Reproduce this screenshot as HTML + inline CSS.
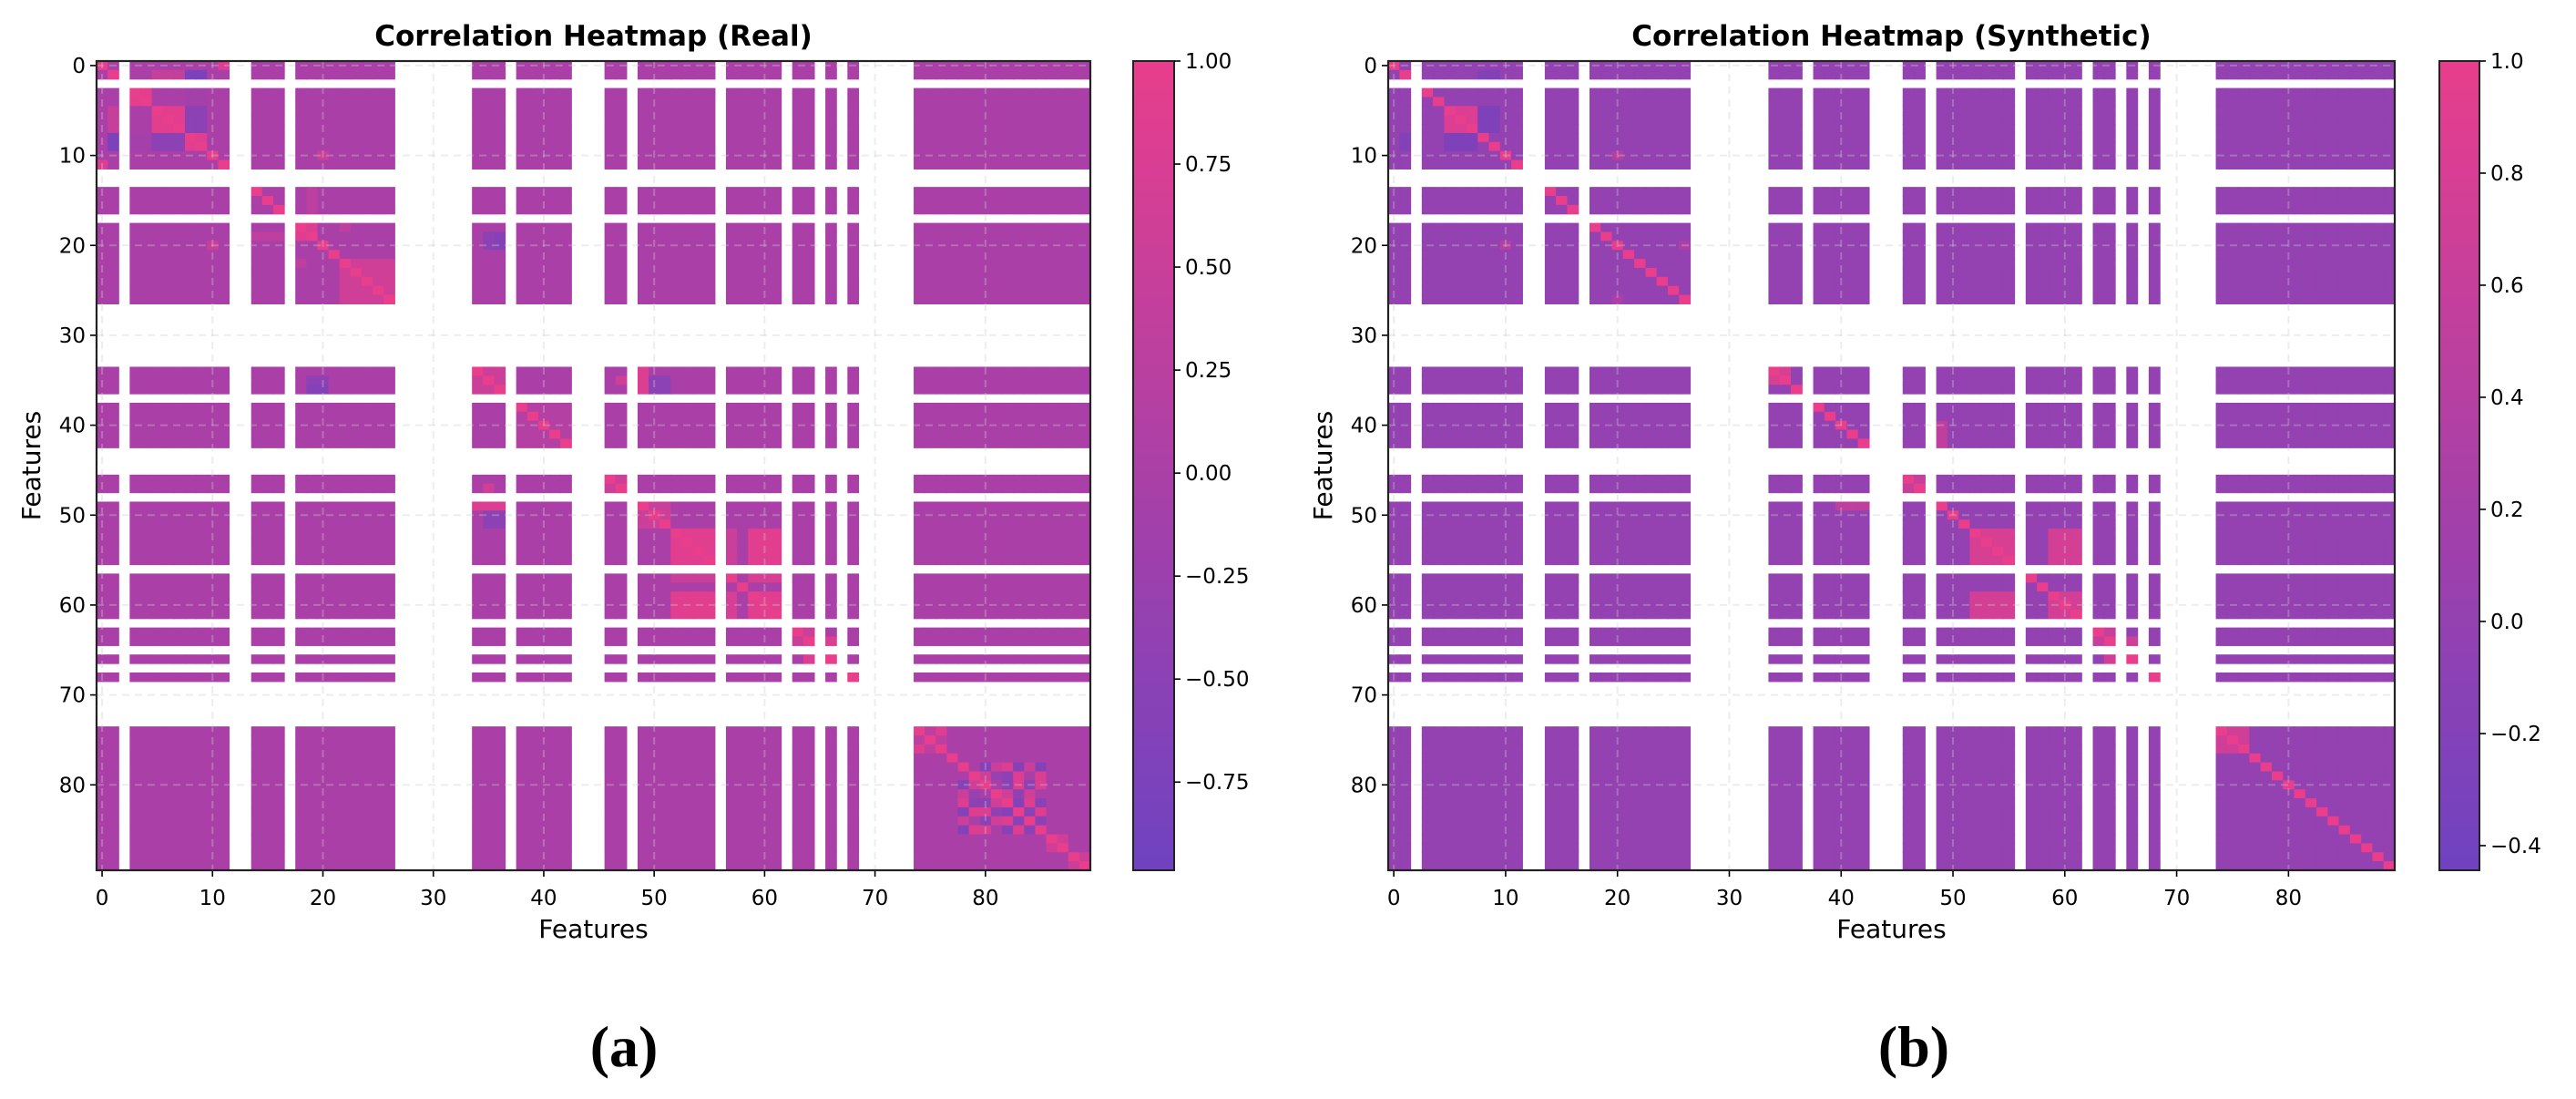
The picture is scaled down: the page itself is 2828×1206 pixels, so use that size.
<!DOCTYPE html>
<html><head><meta charset="utf-8">
<style>
html,body{margin:0;padding:0;background:#fff;}
svg{display:block;}
text{font-family:"DejaVu Sans","Liberation Sans",sans-serif;}
</style></head>
<body>
<svg id="fig" width="2828" height="1206" viewBox="0 0 2828 1206" xmlns="http://www.w3.org/2000/svg">
<defs>
<linearGradient id="cbg" x1="0" y1="1" x2="0" y2="0">
<stop offset="0" stop-color="#6f42c1"/><stop offset="1" stop-color="#e83e8c"/>
</linearGradient>
</defs>
<text x="685" y="1170" text-anchor="middle" font-size="64" font-weight="bold" style="font-family:'Liberation Serif',serif">(a)</text>
<text x="2101" y="1170" text-anchor="middle" font-size="64" font-weight="bold" style="font-family:'Liberation Serif',serif">(b)</text>
</svg>
<script>
const N = 90;
const missing = [2,12,13,17,27,28,29,30,31,32,33,37,43,44,45,48,56,62,65,67,69,70,71,72,73];
const axisTicks = [0,10,20,30,40,50,60,70,80];
// blocks: [rowStart,rowEnd,colStart,colEnd,value] (symmetric)
const realBlocks = [
 [3,4,3,4,0.95],[5,7,5,7,0.92],[8,9,8,9,0.9],[5,7,8,9,-0.5],[3,4,8,9,-0.1],
 [1,1,5,7,0.65],[1,1,8,9,-0.65],[5,7,1,1,0.45],[8,9,1,1,-0.75],[0,0,11,11,0.75],[11,11,0,0,0.8],
 [10,10,20,20,0.55],[18,19,18,19,0.8],[22,26,22,26,0.6],[22,22,18,18,0.3],
 [34,36,34,36,0.55],[38,42,38,42,0.15],[14,16,19,19,0.3],
 [46,47,46,47,0.55],[49,49,49,51,0.5],[50,51,50,51,0.6],
 [52,55,52,55,0.9],[59,61,59,61,0.9],[52,55,59,61,0.9],[57,57,52,55,0.5],[57,57,59,61,0.7],[57,57,57,57,1],[58,58,58,58,1],
 [63,64,63,64,0.5],[64,64,66,66,0.8],[66,66,64,64,0.8],
 [74,76,74,76,0.3],[74,74,76,76,0.85],
 [78,78,80,80,-0.6],[78,78,83,83,-0.6],[78,78,85,85,-0.6],[78,78,82,82,0.8],[78,78,84,84,0.5],[78,78,81,81,0.5],
 [79,79,80,80,0.6],[79,79,83,83,0.85],[79,79,85,85,0.8],[79,79,82,82,-0.5],[79,79,81,81,-0.3],
 [80,80,83,83,0.8],[80,80,85,85,0.75],[80,80,82,82,-0.5],[80,80,84,84,-0.5],
 [81,81,82,82,0.6],[81,81,84,84,0.6],[81,81,83,83,-0.4],
 [82,82,84,84,0.85],[82,82,83,83,-0.6],[82,82,85,85,-0.55],[83,83,85,85,0.85],[83,83,84,84,-0.5],[84,84,85,85,-0.5],
 [86,87,86,87,0.6],[88,89,88,89,0.55],
 [50,51,35,36,-0.55],[35,36,50,51,-0.5],[19,20,35,36,-0.5],[36,36,19,20,-0.6],[49,49,34,36,0.8],[35,35,47,47,0.6]
];
const synthBlocks = [
 [5,7,5,7,0.85],[8,9,5,7,-0.25],[5,7,8,9,-0.25],[1,1,8,9,-0.2],[10,10,20,20,0.4],
 [52,55,52,55,0.8],[59,61,59,61,0.75],[52,55,59,61,0.65],[59,61,52,55,0.75],
 [63,64,63,64,0.6],[64,64,66,66,0.7],[66,66,64,64,0.7],[74,76,74,76,0.7],[46,47,46,47,0.6],
 [49,49,40,42,0.5],[35,35,34,34,0.8],[26,26,20,20,0.3]
];
const realTickVals = [1.00,0.75,0.50,0.25,0.00,-0.25,-0.50,-0.75];
const realTickLabels = ["1.00","0.75","0.50","0.25","0.00","\u22120.25","\u22120.50","\u22120.75"];
const synthTickVals = [1.0,0.8,0.6,0.4,0.2,0.0,-0.2,-0.4];
const synthTickLabels = ["1.0","0.8","0.6","0.4","0.2","0.0","\u22120.2","\u22120.4"];

const NS = "http://www.w3.org/2000/svg";
const svg = document.getElementById('fig');
function mk(tag, attrs, parent){const e=document.createElementNS(NS,tag);for(const k in attrs)e.setAttribute(k,attrs[k]);(parent||svg).appendChild(e);return e;}

function buildMatrix(blocks){
  const m=[];for(let i=0;i<N;i++){m.push(new Array(N).fill(0));m[i][i]=1;}
  blocks.forEach(b=>{for(let r=b[0];r<=b[1];r++)for(let c=b[2];c<=b[3];c++){m[r][c]=b[4];m[c][r]=b[4];}});
  for(let i=0;i<N;i++)m[i][i]=1;
  return m;
}
function color(v,vmin,vmax){
  let t=(v-vmin)/(vmax-vmin);t=Math.max(0,Math.min(1,t));
  const a=[111,66,193],b=[232,62,140];
  return `rgb(${Math.round(a[0]+(b[0]-a[0])*t)},${Math.round(a[1]+(b[1]-a[1])*t)},${Math.round(a[2]+(b[2]-a[2])*t)})`;
}

function panel(p){
  const g=mk('g',{});
  
  
  const cw=(p.x1-p.x0)/N, ch=(p.y1-p.y0)/N;
  const sx=c=>p.x0+c*cw, sy=r=>p.y0+r*ch;
  const m=buildMatrix(p.blocks);
  const cells=mk('g',{},g);
  
  
  for(let r=0;r<N;r++){if(missing.includes(r))continue;
    for(let c=0;c<N;c++){if(missing.includes(c))continue;
      const rc=mk('rect',{x:sx(c).toFixed(2),y:sy(r).toFixed(2),width:(cw+0.6).toFixed(2),height:(ch+0.6).toFixed(2),fill:color(m[r][c],p.vmin,p.vmax)},cells);
      
      
    }}
  // grid
  axisTicks.forEach(t=>{
    const gx=mk('line',{x1:sx(t+0.5),x2:sx(t+0.5),y1:p.y0,y2:p.y1,stroke:'#ccc','stroke-width':2,'stroke-dasharray':'8,6',opacity:0.35},g);
    
    
    const gy=mk('line',{y1:sy(t+0.5),y2:sy(t+0.5),x1:p.x0,x2:p.x1,stroke:'#ccc','stroke-width':2,'stroke-dasharray':'8,6',opacity:0.35},g);
    
    
    const tx=mk('line',{x1:sx(t+0.5),x2:sx(t+0.5),y1:p.y1,y2:p.y1+7,stroke:'#000','stroke-width':1.6},g);
    
    
    const lx=mk('text',{x:sx(t+0.5),y:p.y1+38,'text-anchor':'middle','font-size':23},g);lx.textContent=t;
    
    
    const ty=mk('line',{x1:p.x0-7,x2:p.x0,y1:sy(t+0.5),y2:sy(t+0.5),stroke:'#000','stroke-width':1.6},g);
    
    
    const ly=mk('text',{x:p.x0-12,y:sy(t+0.5)+8,'text-anchor':'end','font-size':23},g);ly.textContent=t;
    
    
  });
  const fr=mk('rect',{x:p.x0,y:p.y0,width:p.x1-p.x0,height:p.y1-p.y0,fill:'none',stroke:'#222','stroke-width':2.2},g);
  
  
  const ti=mk('text',{x:(p.x0+p.x1)/2,y:50,'text-anchor':'middle','font-size':31,'font-weight':'bold'},g);ti.textContent=p.title;
  
  
  const xl=mk('text',{x:(p.x0+p.x1)/2,y:p.y1+74,'text-anchor':'middle','font-size':28},g);xl.textContent='Features';
  
  
  const yx=p.x0-62, yy=(p.y0+p.y1)/2;
  const yl=mk('text',{x:yx,y:yy,'text-anchor':'middle','font-size':28,transform:`rotate(-90 ${yx} ${yy})`},g);yl.textContent='Features';
  
  
  // colorbar
  const cb=mk('rect',{x:p.cx0,y:p.y0,width:p.cx1-p.cx0,height:p.y1-p.y0,fill:'url(#cbg)',stroke:'#222','stroke-width':2},g);
  
  
  p.tv.forEach((v,i)=>{
    const y=p.y1-(v-p.vmin)/(p.vmax-p.vmin)*(p.y1-p.y0);
    const t=mk('line',{x1:p.cx1,x2:p.cx1+7,y1:y,y2:y,stroke:'#000','stroke-width':1.6},g);
    
    
    const l=mk('text',{x:p.cx1+12,y:y+8,'font-size':23},g);l.textContent=p.tl[i];
    
    
  });
}
panel({name:'real-heatmap-panel',title:'Correlation Heatmap (Real)',x0:106,x1:1197,y0:67,y1:955,cx0:1244,cx1:1289,vmin:-0.964,vmax:1.0,blocks:realBlocks,tv:realTickVals,tl:realTickLabels});
panel({name:'synthetic-heatmap-panel',title:'Correlation Heatmap (Synthetic)',x0:1524,x1:2629,y0:67,y1:955,cx0:2678,cx1:2722,vmin:-0.444,vmax:1.0,blocks:synthBlocks,tv:synthTickVals,tl:synthTickLabels});
</script>
</body></html>
